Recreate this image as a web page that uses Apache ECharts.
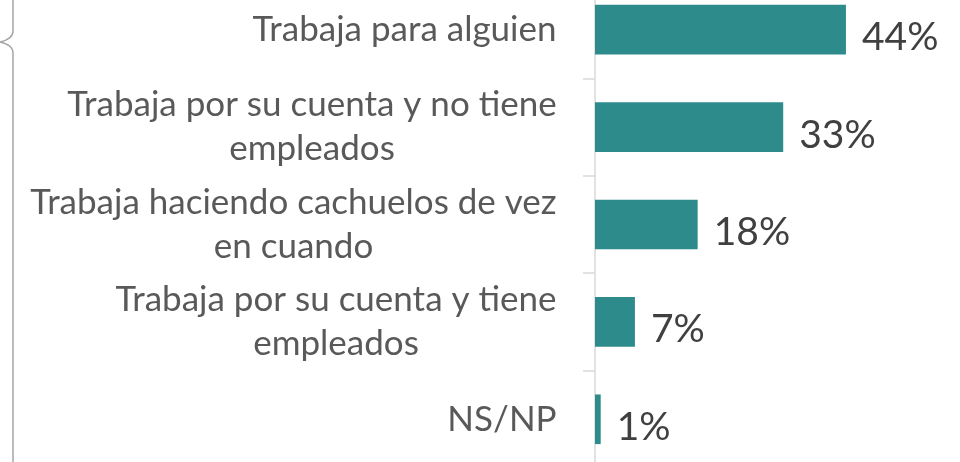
<!DOCTYPE html>
<html>
<head>
<meta charset="utf-8">
<script src="https://cdn.jsdelivr.net/npm/echarts@6/dist/echarts.min.js"></script>
<style>
  html, body { margin: 0; padding: 0; background: #fff; }
  #chart { width: 960px; height: 462px; }
</style>
</head>
<body>
<div id="chart"></div>
<script>
  // categorias (de arriba hacia abajo)
  var categories = [
    'Trabaja para alguien',
    'Trabaja por su cuenta y no tiene\nempleados',
    'Trabaja haciendo cachuelos de vez\nen cuando',
    'Trabaja por su cuenta y tiene\nempleados',
    'NS/NP'
  ];
  var values = [44, 33, 18, 7, 1];

  var labelFont = 'Lato';
  var labelSize = 35;

  // ancho de cada etiqueta (linea mas larga) para centrar las lineas entre si
  var ctx = document.createElement('canvas').getContext('2d');
  ctx.font = labelSize + 'px ' + labelFont;
  var rich = {};
  categories.forEach(function (c, i) {
    var w = 0;
    c.split('\n').forEach(function (line) {
      w = Math.max(w, ctx.measureText(line).width);
    });
    rich['c' + i] = {
      width: Math.ceil(w),
      align: 'center',
      color: '#595959',
      fontFamily: labelFont,
      fontSize: labelSize,
      lineHeight: 44
    };
  });

  var chart = echarts.init(document.getElementById('chart'));

  var braceStyle = { fill: null, stroke: '#a6a6a6', lineWidth: 1.5 };

  var option = {
    animation: false,
    grid: { left: 595, right: 0, top: -19, height: 487, outerBoundsMode: 'none', containLabel: false },
    xAxis: {
      type: 'value',
      min: 0,
      max: 64,
      show: false
    },
    yAxis: {
      type: 'category',
      inverse: true,
      data: categories,
      axisLine: { show: true, lineStyle: { color: '#d9d9d9', width: 1.5 } },
      axisTick: { show: true, length: 12, lineStyle: { color: '#d9d9d9', width: 1.5 } },
      axisLabel: {
        margin: 38,
        align: 'right',
        overflow: 'none',
        hideOverlap: false,
        formatter: function (v, i) {
          return v.split('\n').map(function (line) {
            return '{c' + i + '|' + line + '}';
          }).join('\n');
        },
        rich: rich
      }
    },
    series: [{
      type: 'bar',
      data: values,
      barWidth: '51%',
      itemStyle: { color: '#2e8b8b' },
      label: {
        show: true,
        position: 'right',
        distance: 16,
        color: '#404040',
        fontFamily: 'Lato',
        fontSize: 39,
        offset: [0, 8],
        formatter: '{c}%'
      }
    }],
    graphic: [
      // llave decorativa a la izquierda
      { type: 'line', shape: { x1: 13, y1: 0, x2: 13, y2: 31 }, style: braceStyle },
      { type: 'bezierCurve', shape: { x1: 13, y1: 31, cpx1: 13, cpy1: 39, x2: 0, y2: 42 }, style: braceStyle },
      { type: 'bezierCurve', shape: { x1: 0, y1: 42, cpx1: 13, cpy1: 45, x2: 13, y2: 53 }, style: braceStyle },
      { type: 'line', shape: { x1: 13, y1: 53, x2: 13, y2: 462 }, style: braceStyle }
    ]
  };

  chart.setOption(option);
</script>
</body>
</html>
